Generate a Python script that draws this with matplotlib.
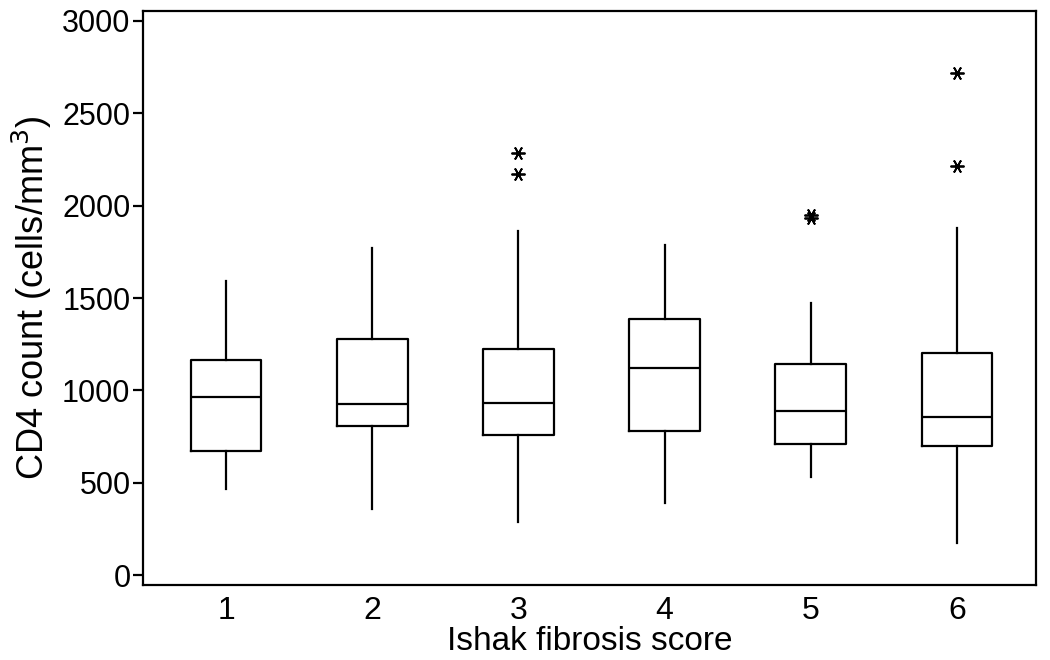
import matplotlib
matplotlib.use("Agg")
import matplotlib.pyplot as plt

plt.rcParams['font.family'] = ['Liberation Sans', 'DejaVu Sans']

scores = [1, 2, 3, 4, 5, 6]
whisker_low = [465, 357, 290, 389, 533, 176]
q1 = [672, 809, 761, 782, 710, 699]
median = [964, 925, 934, 1123, 887, 855]
q3 = [1165, 1278, 1226, 1385, 1143, 1204]
whisker_high = [1594, 1769, 1864, 1787, 1471, 1877]
outliers = [[], [], [2286, 2169], [], [1950, 1932], [2719, 2216]]
yticks = [0, 500, 1000, 1500, 2000, 2500, 3000]

stats = []
for i in range(len(scores)):
    stats.append(dict(med=median[i], q1=q1[i], q3=q3[i],
                      whislo=whisker_low[i], whishi=whisker_high[i],
                      fliers=outliers[i], label=str(scores[i])))

fig = plt.figure(figsize=(10.5, 6.6), dpi=100)
ax = fig.add_axes([143/1050, 1-585/660, (1036-143)/1050, (585-11)/660])

lw = 1.6
ax.bxp(stats, positions=scores, widths=0.484, showcaps=False,
       boxprops=dict(color='black', linewidth=lw),
       medianprops=dict(color='black', linewidth=lw),
       whiskerprops=dict(color='black', linewidth=lw),
       flierprops=dict(marker=(6, 2, 30), markersize=10, markeredgecolor='black',
                       markerfacecolor='black', markeredgewidth=1.3, linestyle='none'))

ax.set_xlim(0.432, 6.54)
ax.set_ylim(-52, 3052)
ax.set_yticks(yticks)
ax.set_yticklabels([str(v) for v in yticks])
for s in ax.spines.values():
    s.set_linewidth(1.6)
ax.tick_params(axis='y', length=7, width=1.6, labelsize=22, pad=2)
ax.tick_params(axis='x', length=0, labelsize=23, pad=8)
ax.set_xlabel('Ishak fibrosis score', fontsize=24, labelpad=0)
ax.set_ylabel('CD4 count (cells/mm$^3$)', fontsize=26, labelpad=6)

fig.savefig('out.png', dpi=100)
